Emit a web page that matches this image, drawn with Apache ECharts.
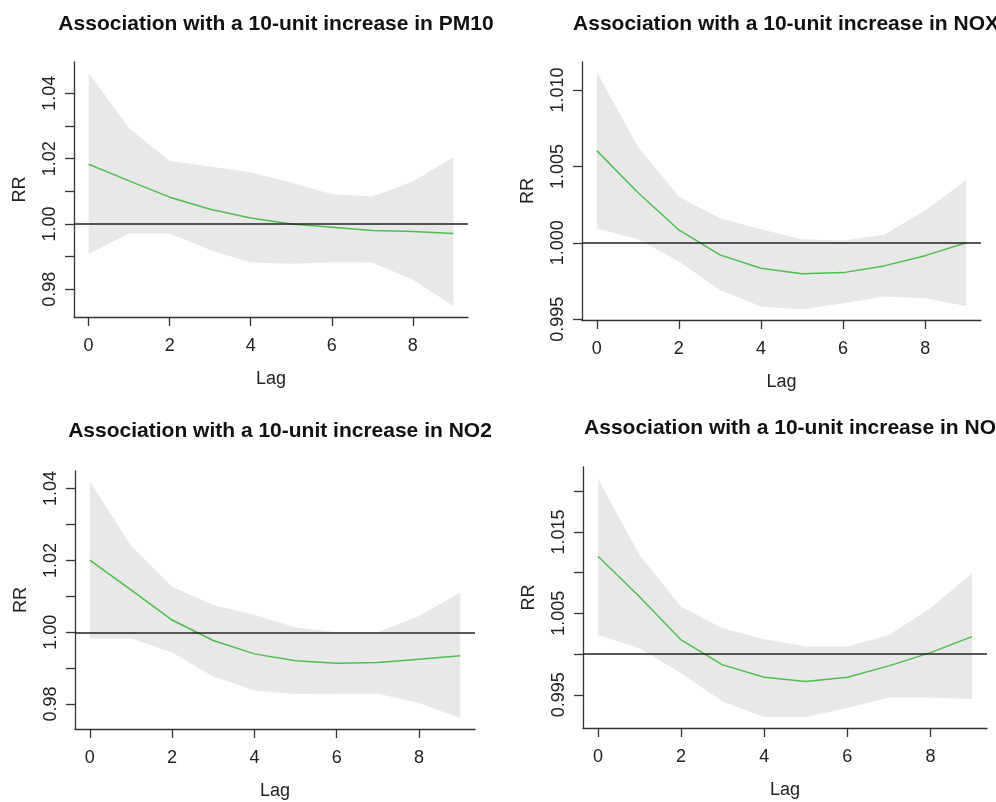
<!DOCTYPE html>
<html>
<head>
<meta charset="utf-8">
<script src="https://cdn.jsdelivr.net/npm/echarts@6/dist/echarts.min.js"></script>
<style>html,body{margin:0;padding:0;background:#fff;}#c{width:996px;height:802px;}</style>
</head>
<body>
<div id="c"></div>
<script>
var lags = [0, 1, 2, 3, 4, 5, 6, 7, 8, 9];
var xTicks = [0, 2, 4, 6, 8];

var titles = [
  'Association with a 10-unit increase in PM10',
  'Association with a 10-unit increase in NOX',
  'Association with a 10-unit increase in NO2',
  'Association with a 10-unit increase in NO'
];

// PM10
var pm10Fit   = [1.0183, 1.0132, 1.0082, 1.0045, 1.0018, 1.0000, 0.9990, 0.9980, 0.9977, 0.9971];
var pm10Upper = [1.0463, 1.0293, 1.0193, 1.0176, 1.0158, 1.0127, 1.0091, 1.0084, 1.0130, 1.0204];
var pm10Lower = [0.9908, 0.9971, 0.9971, 0.9920, 0.9882, 0.9878, 0.9883, 0.9882, 0.9829, 0.9749];
var pm10Ticks  = [0.98, 0.99, 1.00, 1.01, 1.02, 1.03, 1.04];
var pm10Labels = [0.98, 1.00, 1.02, 1.04];

// NOX
var noxFit   = [1.00603, 1.00329, 1.00084, 0.99921, 0.99834, 0.99797, 0.99805, 0.99849, 0.99916, 1.00001];
var noxUpper = [1.01120, 1.00629, 1.00302, 1.00161, 1.00089, 1.00023, 1.00015, 1.00052, 1.00211, 1.00411];
var noxLower = [1.00093, 1.00023, 0.99877, 0.99692, 0.99583, 0.99565, 0.99605, 0.99648, 0.99637, 0.99587];
var noxTicks  = [0.995, 1.000, 1.005, 1.010];
var noxLabels = [0.995, 1.000, 1.005, 1.010];

// NO2
var no2Fit   = [1.0201, 1.0118, 1.0034, 0.99769, 0.99398, 0.99204, 0.99139, 0.99157, 0.99250, 0.99343];
var no2Upper = [1.0420, 1.0241, 1.0127, 1.0076, 1.0048, 1.0013, 1.0000, 1.0000, 1.0045, 1.0111];
var no2Lower = [0.99824, 0.99824, 0.99435, 0.98769, 0.98380, 0.98278, 0.98287, 0.98287, 0.98028, 0.97611];
var no2Ticks  = [0.98, 0.99, 1.00, 1.01, 1.02, 1.03, 1.04];
var no2Labels = [0.98, 1.00, 1.02, 1.04];

// NO
var noFit   = [1.01202, 1.00704, 1.00173, 0.99867, 0.99716, 0.99663, 0.99716, 0.99855, 1.00018, 1.00214];
var noUpper = [1.02153, 1.01214, 1.00582, 1.00316, 1.00182, 1.00092, 1.00092, 1.00235, 1.00561, 1.00990];
var noLower = [1.00235, 1.00071, 0.99765, 0.99418, 0.99227, 0.99227, 0.99337, 0.99467, 0.99467, 0.99447];
var noTicks  = [0.995, 1.000, 1.005, 1.010, 1.015, 1.020];
var noLabels = [0.995, 1.005, 1.015];

var panels = [
  {fit: pm10Fit, up: pm10Upper, lo: pm10Lower, ticks: pm10Ticks, labels: pm10Labels, dec: 2,
   grid: {left: 74, top: 62, width: 394, height: 255}, ymin: 0.9715, ymax: 1.0496, tx: 271, ty: 9},
  {fit: noxFit, up: noxUpper, lo: noxLower, ticks: noxTicks, labels: noxLabels, dec: 3,
   grid: {left: 582, top: 62, width: 399, height: 258}, ymin: 0.99495, ymax: 1.01183, tx: 781, ty: 9},
  {fit: no2Fit, up: no2Upper, lo: no2Lower, ticks: no2Ticks, labels: no2Labels, dec: 2,
   grid: {left: 75, top: 471, width: 400, height: 258}, ymin: 0.97306, ymax: 1.0449, tx: 275, ty: 416},
  {fit: noFit, up: noUpper, lo: noLower, ticks: noTicks, labels: noLabels, dec: 3,
   grid: {left: 583, top: 467, width: 404, height: 261}, ymin: 0.99092, ymax: 1.02297, tx: 785, ty: 413}
];

var FONT = 'Liberation Sans, Arial, sans-serif';
var AX = '#333333';

var option = {
  backgroundColor: '#ffffff',
  animation: false,
  title: [], grid: [], xAxis: [], yAxis: [], series: []
};

function bandRenderer(p) {
  return function (params, api) {
    if (params.dataIndex !== 0) return null;
    var pts = [];
    var k;
    for (k = 0; k < lags.length; k++) pts.push(api.coord([lags[k], p.up[k]]));
    for (k = lags.length - 1; k >= 0; k--) pts.push(api.coord([lags[k], p.lo[k]]));
    return {
      type: 'polygon',
      shape: {points: pts},
      style: {fill: '#e8e8e8', stroke: 'none'}
    };
  };
}

panels.forEach(function (p, i) {
  option.title.push({
    text: titles[i], left: p.tx, top: p.ty, textAlign: 'center',
    textStyle: {fontFamily: FONT, fontSize: 21, fontWeight: 'bold', color: '#111'}
  });
  option.grid.push(p.grid);
  option.xAxis.push({
    type: 'value', gridIndex: i, min: -0.36, max: 9.36,
    name: 'Lag', nameLocation: 'middle', nameGap: 53,
    nameTextStyle: {fontFamily: FONT, fontSize: 18, color: '#222'},
    axisLine: {show: true, onZero: false, lineStyle: {color: AX, width: 1.3}},
    axisTick: {show: true, length: 9, customValues: xTicks, lineStyle: {color: AX, width: 1.3}},
    axisLabel: {customValues: xTicks, margin: 20, fontFamily: FONT, fontSize: 18, color: '#222'},
    splitLine: {show: false}
  });
  option.yAxis.push({
    type: 'value', gridIndex: i, min: p.ymin, max: p.ymax,
    name: 'RR', nameLocation: 'middle', nameGap: 45, nameRotate: 90,
    nameTextStyle: {fontFamily: FONT, fontSize: 18, color: '#222'},
    axisLine: {show: true, onZero: false, lineStyle: {color: AX, width: 1.3}},
    axisTick: {show: true, length: 9, customValues: p.ticks, lineStyle: {color: AX, width: 1.3}},
    axisLabel: {customValues: p.labels, rotate: 90, margin: 15, fontFamily: FONT, fontSize: 18, color: '#222',
      formatter: (function (d) { return function (v) { return Number(v).toFixed(d); }; })(p.dec)},
    splitLine: {show: false}
  });
  var bandData = lags.map(function (l, k) { return [l, p.lo[k], p.up[k]]; });
  var fitPts = lags.map(function (l, k) { return [l, p.fit[k]]; });
  option.series.push({
    type: 'custom', xAxisIndex: i, yAxisIndex: i, data: bandData,
    encode: {x: 0, y: [1, 2]}, renderItem: bandRenderer(p), silent: true, z: 1, clip: true
  });
  option.series.push({
    type: 'line', xAxisIndex: i, yAxisIndex: i, data: [], symbol: 'none', z: 2, silent: true,
    markLine: {silent: true, symbol: 'none', label: {show: false},
      lineStyle: {color: '#222', width: 1.5, type: 'solid'}, data: [{yAxis: 1}]}
  });
  option.series.push({
    type: 'line', xAxisIndex: i, yAxisIndex: i, data: fitPts, symbol: 'none', z: 3,
    lineStyle: {color: '#4cbf4a', width: 1.5}
  });
});

var chart = echarts.init(document.getElementById('c'), null, {renderer: 'canvas'});
chart.setOption(option);
</script>
</body>
</html>
